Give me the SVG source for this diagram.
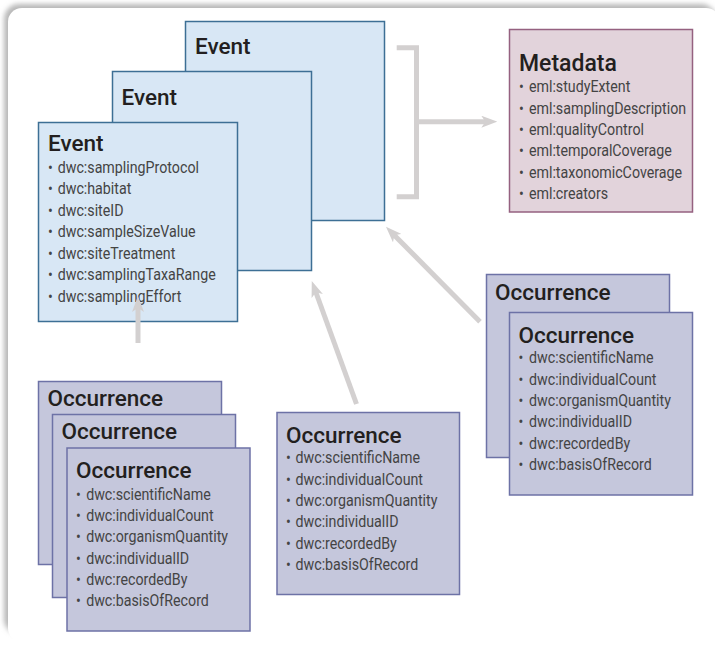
<svg xmlns="http://www.w3.org/2000/svg" width="715" height="645" viewBox="0 0 715 645">
  <defs>
    <filter id="cardShadow" x="-5%" y="-5%" width="110%" height="110%">
      <feGaussianBlur stdDeviation="2.5"/>
    </filter>
    <marker id="head" viewBox="0 0 16 12" markerWidth="16" markerHeight="12" refX="8" refY="6" orient="auto" markerUnits="userSpaceOnUse">
      <path d="M0,0 L16,6 L0,12 L4,6 Z" fill="#d3d0d0"/>
    </marker>
    <style>
      .event { fill: #d8e7f5; stroke: #3d6f95; stroke-width: 1.5; }
      .occ { fill: #c5c7dc; stroke: #6d72a6; stroke-width: 1.5; }
      .meta { fill: #e2d3db; stroke: #956180; stroke-width: 1.5; }
      .title { font-family: Roboto, "Liberation Sans", sans-serif; font-weight: 500; font-size: 22.5px; fill: #231f20; }
      .items text { font-family: Roboto, "Liberation Sans", sans-serif; font-weight: 400; font-size: 16px; fill: #444444; }
      .link { fill: none; stroke: #d3d0d0; stroke-width: 5; }
    </style>
  </defs>

  <!-- card background, shadow falls to the top and left -->
  <rect x="4" y="4" width="712" height="630" rx="15" fill="#b8b8b8" filter="url(#cardShadow)"/>
  <rect x="8" y="8" width="712" height="634" rx="14" fill="#ffffff"/>

  <!-- event stack -->
  <g id="event-back">
    <rect class="event" x="185.5" y="21.5" width="199" height="199"/>
    <text class="title" x="195" y="54">Event</text>
  </g>
  <g id="event-middle">
    <rect class="event" x="112.5" y="71.5" width="199" height="199"/>
    <text class="title" x="121.5" y="105">Event</text>
  </g>
  <g id="event-front">
    <rect class="event" x="38.5" y="122.5" width="199" height="199"/>
    <text class="title" x="48" y="151">Event</text>
    <g class="items" transform="translate(48 0) scale(0.89 1)">
      <text y="173"><tspan x="0">•</tspan><tspan x="10.9">dwc:samplingProtocol</tspan></text>
      <text y="194.5"><tspan x="0">•</tspan><tspan x="10.9">dwc:habitat</tspan></text>
      <text y="216"><tspan x="0">•</tspan><tspan x="10.9">dwc:siteID</tspan></text>
      <text y="237.5"><tspan x="0">•</tspan><tspan x="10.9">dwc:sampleSizeValue</tspan></text>
      <text y="259"><tspan x="0">•</tspan><tspan x="10.9">dwc:siteTreatment</tspan></text>
      <text y="280.5"><tspan x="0">•</tspan><tspan x="10.9">dwc:samplingTaxaRange</tspan></text>
      <text y="302"><tspan x="0">•</tspan><tspan x="10.9">dwc:samplingEffort</tspan></text>
    </g>
  </g>

  <!-- dataset metadata -->
  <g id="metadata">
    <rect class="meta" x="509.5" y="29.5" width="183" height="182.5"/>
    <text class="title" x="519" y="70.5" style="font-size:23px">Metadata</text>
    <g class="items" transform="translate(519 0) scale(0.89 1)">
      <text y="92.3"><tspan x="0">•</tspan><tspan x="11.2">eml:studyExtent</tspan></text>
      <text y="113.7"><tspan x="0">•</tspan><tspan x="11.2">eml:samplingDescription</tspan></text>
      <text y="135.1"><tspan x="0">•</tspan><tspan x="11.2">eml:qualityControl</tspan></text>
      <text y="156.5"><tspan x="0">•</tspan><tspan x="11.2">eml:temporalCoverage</tspan></text>
      <text y="177.9"><tspan x="0">•</tspan><tspan x="11.2">eml:taxonomicCoverage</tspan></text>
      <text y="199.3"><tspan x="0">•</tspan><tspan x="11.2">eml:creators</tspan></text>
    </g>
  </g>

  <!-- occurrence stack, right -->
  <g id="occ-right-back">
    <rect class="occ" x="486.5" y="274.5" width="183" height="183"/>
    <text class="title" x="495" y="299.5">Occurrence</text>
  </g>
  <g id="occ-right-front">
    <rect class="occ" x="509.5" y="312.5" width="183" height="182.5"/>
    <text class="title" x="518.5" y="342.7">Occurrence</text>
    <g class="items" transform="translate(518.5 0) scale(0.89 1)">
      <text y="363.3"><tspan x="0">•</tspan><tspan x="11.8">dwc:scientificName</tspan></text>
      <text y="384.7"><tspan x="0">•</tspan><tspan x="11.8">dwc:individualCount</tspan></text>
      <text y="406.1"><tspan x="0">•</tspan><tspan x="11.8">dwc:organismQuantity</tspan></text>
      <text y="427.5"><tspan x="0">•</tspan><tspan x="11.8">dwc:individualID</tspan></text>
      <text y="448.9"><tspan x="0">•</tspan><tspan x="11.8">dwc:recordedBy</tspan></text>
      <text y="470.3"><tspan x="0">•</tspan><tspan x="11.8">dwc:basisOfRecord</tspan></text>
    </g>
  </g>

  <!-- single occurrence, centre -->
  <g id="occ-centre">
    <rect class="occ" x="277" y="412.5" width="182.5" height="182"/>
    <text class="title" x="286" y="442.7">Occurrence</text>
    <g class="items" transform="translate(286 0) scale(0.89 1)">
      <text y="463.3"><tspan x="0">•</tspan><tspan x="10.7">dwc:scientificName</tspan></text>
      <text y="484.7"><tspan x="0">•</tspan><tspan x="10.7">dwc:individualCount</tspan></text>
      <text y="506.1"><tspan x="0">•</tspan><tspan x="10.7">dwc:organismQuantity</tspan></text>
      <text y="527.5"><tspan x="0">•</tspan><tspan x="10.7">dwc:individualID</tspan></text>
      <text y="548.9"><tspan x="0">•</tspan><tspan x="10.7">dwc:recordedBy</tspan></text>
      <text y="570.3"><tspan x="0">•</tspan><tspan x="10.7">dwc:basisOfRecord</tspan></text>
    </g>
  </g>

  <!-- occurrence stack, left -->
  <g id="occ-left-back">
    <rect class="occ" x="38.5" y="381.5" width="183" height="183"/>
    <text class="title" x="47.5" y="406">Occurrence</text>
  </g>
  <g id="occ-left-middle">
    <rect class="occ" x="52.5" y="414.5" width="183" height="183"/>
    <text class="title" x="61.5" y="439.3">Occurrence</text>
  </g>
  <g id="occ-left-front">
    <rect class="occ" x="67" y="448" width="183" height="183"/>
    <text class="title" x="76" y="477.7">Occurrence</text>
    <g class="items" transform="translate(76 0) scale(0.89 1)">
      <text y="499.7"><tspan x="0">•</tspan><tspan x="11.4">dwc:scientificName</tspan></text>
      <text y="521"><tspan x="0">•</tspan><tspan x="11.4">dwc:individualCount</tspan></text>
      <text y="542.3"><tspan x="0">•</tspan><tspan x="11.4">dwc:organismQuantity</tspan></text>
      <text y="563.6"><tspan x="0">•</tspan><tspan x="11.4">dwc:individualID</tspan></text>
      <text y="584.9"><tspan x="0">•</tspan><tspan x="11.4">dwc:recordedBy</tspan></text>
      <text y="606.2"><tspan x="0">•</tspan><tspan x="11.4">dwc:basisOfRecord</tspan></text>
    </g>
  </g>

  <!-- connectors -->
  <g id="connectors">
    <path class="link" d="M396.7,47.8 H416.5 V196.7 H396.7"/>
    <path class="link" d="M416.5,121.7 H489.3" marker-end="url(#head)"/>
    <path class="link" d="M138,343 V304" marker-end="url(#head)"/>
    <path class="link" d="M356.5,404 L314.5,288.5" marker-end="url(#head)"/>
    <path class="link" d="M480,321.7 L391.6,232.4" marker-end="url(#head)"/>
  </g>
</svg>
